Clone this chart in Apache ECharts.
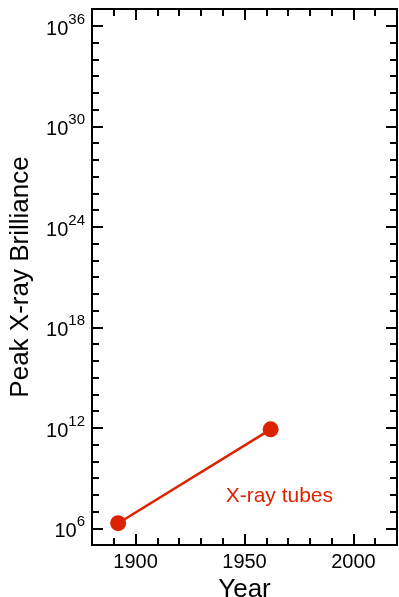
<!DOCTYPE html>
<html><head><meta charset="utf-8">
<script src="https://cdn.jsdelivr.net/npm/echarts@6/dist/echarts.min.js"></script>
<style>html,body{margin:0;padding:0;background:#fff}#c{width:399px;height:597px}</style>
</head><body><div id="c"></div>
<script>
// Data
const seriesName = 'X-ray tubes';
const years = [1892, 1962];
const brilliance = [2e6, 8e11];
const xLabelYears = [1900, 1950, 2000];
const xMinorYears = [1890, 1900, 1910, 1920, 1930, 1940, 1950, 1960, 1970, 1980, 1990, 2000, 2010];
const yLabelExponents = [6, 12, 18, 24, 30, 36];
const yMinorExponents = [6, 7, 8, 9, 10, 11, 12, 13, 14, 15, 16, 17, 18, 19, 20, 21, 22, 23, 24, 25, 26, 27, 28, 29, 30, 31, 32, 33, 34, 35, 36];
const labelAnchor = [1966, 8e7];

const RED = '#dc2300';
const FONT = 'Liberation Sans, Arial, Helvetica, sans-serif';
const pow = e => Math.pow(10, e);
const X_MIN = 1880, X_MAX = 2020, Y_MIN = 1e5, Y_MAX = 1e37;

function xAx(pos, ticks, len, labels, extra) {
  return Object.assign({
    type: 'value', position: pos, min: X_MIN, max: X_MAX,
    axisLine: { show: false },
    axisTick: { show: true, inside: true, length: len, customValues: ticks, lineStyle: { color: '#000', width: 2 } },
    axisLabel: labels ? { show: true, customValues: labels, formatter: v => String(Math.round(v)), fontSize: 20, color: '#000', fontFamily: FONT, margin: 7 } : { show: false },
    splitLine: { show: false }
  }, extra || {});
}
function yAx(pos, ticks, len, labels, extra) {
  return Object.assign({
    type: 'log', logBase: 10, position: pos, min: Y_MIN, max: Y_MAX,
    axisLine: { show: false },
    axisTick: { show: true, inside: true, length: len, customValues: ticks.map(pow), lineStyle: { color: '#000', width: 2 } },
    axisLabel: labels ? {
      show: true, customValues: labels.map(pow), margin: 7, color: '#000', fontFamily: FONT,
      formatter: v => '{b|10}{s|' + Math.round(Math.log10(v)) + '}',
      rich: {
        b: { fontSize: 20, lineHeight: 20, padding: [7, 0, 0, 0], color: '#000', fontFamily: FONT },
        s: { fontSize: 15, lineHeight: 15, padding: [0, 0, 12, 0], color: '#000', fontFamily: FONT }
      }
    } : { show: false },
    splitLine: { show: false }
  }, extra || {});
}

const chart = echarts.init(document.getElementById('c'), null, { renderer: 'canvas' });
chart.setOption({
  animation: false,
  backgroundColor: '#fff',
  grid: { left: 92, right: 2, top: 9, bottom: 52, containLabel: false, outerBoundsMode: 'none', show: true, borderColor: '#000', borderWidth: 2, backgroundColor: 'transparent' },
  xAxis: [
    xAx('bottom', xMinorYears, 7, xLabelYears, {
      name: 'Year', nameLocation: 'middle', nameGap: 27,
      nameTextStyle: { fontSize: 26, color: '#000', fontFamily: FONT }
    }),
    xAx('bottom', xLabelYears, 11, null),
    xAx('top', xMinorYears, 7, null),
    xAx('top', xLabelYears, 11, null)
  ],
  yAxis: [
    yAx('left', yMinorExponents, 7, yLabelExponents, {
      name: 'Peak X-ray Brilliance', nameLocation: 'middle', nameGap: 58,
      nameTextStyle: { fontSize: 26, color: '#000', fontFamily: FONT }
    }),
    yAx('left', yLabelExponents, 11, null),
    yAx('right', yMinorExponents, 7, null),
    yAx('right', yLabelExponents, 11, null)
  ],
  series: [{
    name: seriesName, type: 'line', xAxisIndex: 0, yAxisIndex: 0,
    data: years.map((y, i) => [y, brilliance[i]]),
    symbol: 'circle', symbolSize: 16,
    itemStyle: { color: RED },
    lineStyle: { color: RED, width: 2.5 },
    markPoint: {
      symbol: 'circle', symbolSize: 0,
      label: { show: true, position: 'inside', formatter: seriesName, color: RED, fontSize: 21, fontFamily: FONT },
      data: [{ coord: labelAnchor }]
    }
  }]
});
</script></body></html>
